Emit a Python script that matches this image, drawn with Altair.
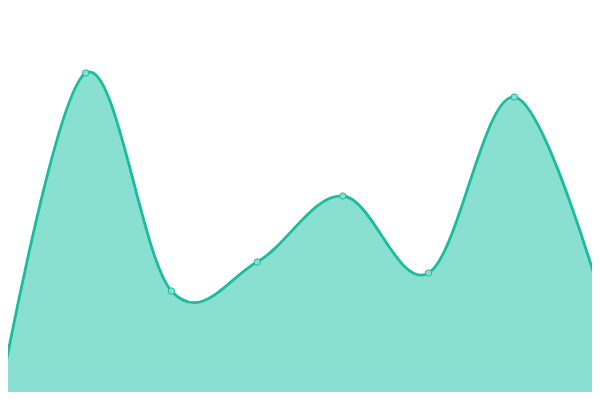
import altair as alt
import pandas as pd

idx = [0, 1, 2, 3, 4, 5, 6, 7]
vals = [5, 327, 109, 138, 204, 127, 303, 105]

df = pd.DataFrame({"i": idx, "v": vals})

step = 600 / 7
x = alt.X("i:Q", scale=alt.Scale(domain=[8 / step, 592 / step], nice=False, zero=False), axis=None)
y = alt.Y("v:Q", scale=alt.Scale(domain=[8, 392], nice=False, zero=False), axis=None)

base = alt.Chart(df).encode(x=x, y=y)

area = base.mark_area(interpolate="cardinal", tension=-0.05, color="#8ae0d0", opacity=1, clip=True).encode(y2=alt.datum(-50))
line = base.mark_line(interpolate="cardinal", tension=-0.05, color="#1abc9c", strokeWidth=2.8, clip=True)
pts = base.mark_point(filled=True, fill="#8ae0d0", stroke="#1abc9c", strokeWidth=1, size=40, opacity=1, clip=True)

chart = (area + line + pts).properties(width=584, height=384, padding=0, autosize="none").configure_view(stroke=None)

chart.save("out.html", embed_options={"renderer": "svg", "actions": False})
